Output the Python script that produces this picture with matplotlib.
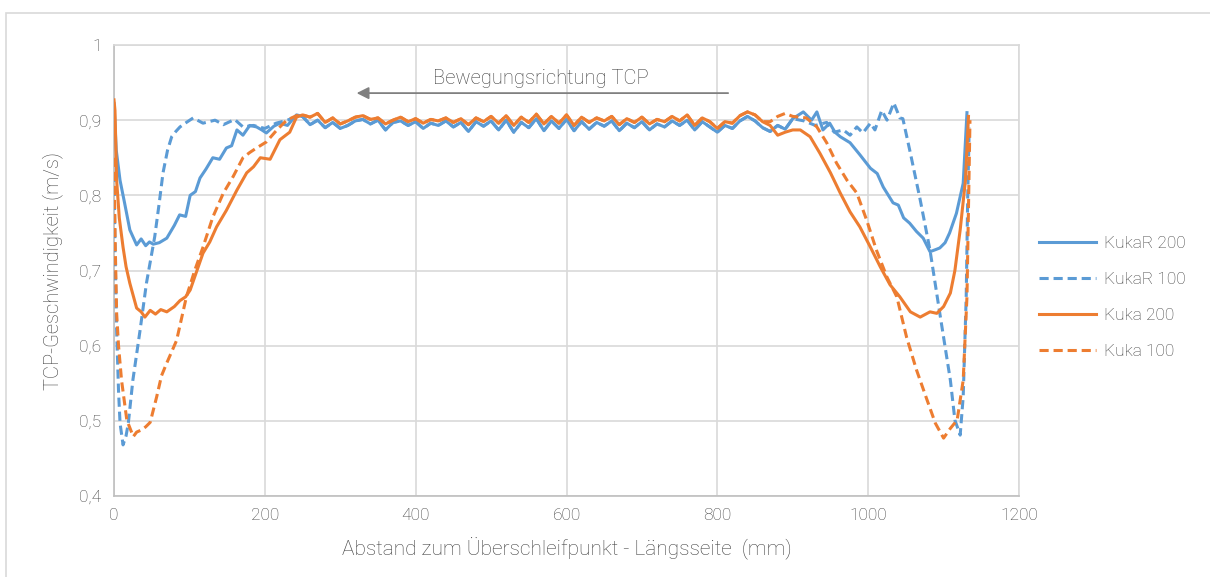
import numpy as np
import matplotlib.pyplot as plt
from matplotlib.patches import Rectangle

plt.rcParams['font.family'] = ['Roboto', 'DejaVu Sans']
plt.rcParams['font.weight'] = 'light'
plt.rcParams['axes.labelweight'] = 'light'

# plateau section (shared by the solid/dashed curves of one robot)
plat_x = [250, 260, 270, 280, 290, 300, 310, 320, 330, 340, 350, 360, 370, 380, 390,
          400, 410, 420, 430, 440, 450, 460, 470, 480, 490, 500, 510, 520, 530, 540,
          550, 560, 570, 580, 590, 600, 610, 620, 630, 640, 650, 660, 670, 680, 690,
          700, 710, 720, 730, 740, 750, 760, 770, 780, 790, 800, 810, 820, 830, 840,
          850, 860]
plat_kukar = [0.905, 0.894, 0.900, 0.890, 0.897, 0.889, 0.893, 0.899, 0.901, 0.895,
              0.900, 0.887, 0.897, 0.899, 0.893, 0.898, 0.889, 0.896, 0.893, 0.899,
              0.891, 0.897, 0.885, 0.898, 0.892, 0.899, 0.887, 0.900, 0.884, 0.897,
              0.890, 0.902, 0.886, 0.899, 0.889, 0.901, 0.886, 0.898, 0.888, 0.897,
              0.892, 0.899, 0.886, 0.896, 0.890, 0.898, 0.887, 0.895, 0.891, 0.899,
              0.893, 0.900, 0.887, 0.898, 0.891, 0.884, 0.893, 0.889, 0.899, 0.905,
              0.899, 0.890]
plat_kuka = [0.907, 0.904, 0.909, 0.897, 0.903, 0.895, 0.899, 0.904, 0.906, 0.901,
             0.903, 0.895, 0.900, 0.904, 0.898, 0.902, 0.896, 0.901, 0.899, 0.903,
             0.897, 0.902, 0.894, 0.903, 0.898, 0.905, 0.896, 0.906, 0.893, 0.904,
             0.897, 0.908, 0.895, 0.905, 0.896, 0.907, 0.893, 0.904, 0.897, 0.903,
             0.899, 0.905, 0.894, 0.902, 0.897, 0.904, 0.895, 0.901, 0.898, 0.905,
             0.899, 0.907, 0.893, 0.903, 0.898, 0.889, 0.898, 0.896, 0.906, 0.911,
             0.907, 0.898]

# KukaR 200
kr200_lx = [0, 3, 8, 14, 21, 30, 36, 42, 47, 52, 60, 70, 80, 87, 95, 101, 108, 114, 122,
            131, 140, 149, 156, 163, 171, 180, 189, 196, 202, 212, 220, 230, 242]
kr200_ly = [0.922, 0.86, 0.82, 0.79, 0.754, 0.734, 0.742, 0.733, 0.738, 0.735, 0.737,
            0.743, 0.760, 0.774, 0.772, 0.800, 0.805, 0.823, 0.835, 0.850, 0.848, 0.863,
            0.866, 0.887, 0.880, 0.893, 0.891, 0.887, 0.883, 0.892, 0.896, 0.893, 0.907]
kr200_rx = [870, 880, 890, 900, 914, 925, 932, 940, 949, 956, 963, 976, 989, 1003, 1012,
            1020, 1033, 1040, 1047, 1055, 1064, 1073, 1082, 1090, 1095, 1102, 1108, 1117,
            1126, 1131]
kr200_ry = [0.885, 0.893, 0.888, 0.902, 0.911, 0.900, 0.911, 0.887, 0.896, 0.884, 0.878,
            0.870, 0.854, 0.836, 0.829, 0.811, 0.790, 0.787, 0.770, 0.763, 0.752, 0.743,
            0.725, 0.728, 0.730, 0.737, 0.750, 0.776, 0.816, 0.910]

# KukaR 100
kr100_lx = [0, 1.5, 3.5, 6, 8, 12, 16, 19, 25, 34.5, 43, 54, 60, 65, 71, 76.5, 82, 87.5,
            96, 105, 118, 134, 145, 160, 171, 185, 200, 215, 230, 242]
kr100_ly = [0.83, 0.72, 0.62, 0.54, 0.497, 0.468, 0.480, 0.497, 0.554, 0.620, 0.683,
            0.745, 0.790, 0.830, 0.860, 0.878, 0.885, 0.891, 0.897, 0.903, 0.896, 0.900,
            0.894, 0.901, 0.891, 0.893, 0.889, 0.896, 0.900, 0.905]
kr100_rx = [870, 880, 890, 900, 915, 930, 945, 955, 967, 976, 985, 993, 1003, 1009, 1018,
            1025, 1034, 1042, 1046, 1056, 1069, 1082, 1095, 1109, 1115, 1122, 1126, 1130,
            1132, 1134]
kr100_ry = [0.885, 0.893, 0.888, 0.902, 0.899, 0.893, 0.897, 0.884, 0.887, 0.880, 0.891,
            0.883, 0.896, 0.887, 0.913, 0.900, 0.923, 0.903, 0.902, 0.856, 0.794, 0.727,
            0.643, 0.554, 0.501, 0.481, 0.532, 0.665, 0.798, 0.890]

# Kuka 200
k200_lx = [0, 1.3, 3.5, 7, 12, 16, 21, 30, 36, 41, 48, 55, 62, 70, 80, 87.5, 95, 101,
           110, 118, 127, 136, 149, 163, 176, 185, 194, 207, 220, 233, 242]
k200_ly = [0.927, 0.913, 0.82, 0.77, 0.731, 0.705, 0.683, 0.650, 0.645, 0.638, 0.647,
           0.642, 0.648, 0.645, 0.652, 0.660, 0.665, 0.674, 0.700, 0.723, 0.738, 0.758,
           0.780, 0.807, 0.830, 0.838, 0.850, 0.848, 0.874, 0.884, 0.904]
k200_rx = [870, 880, 890, 900, 910, 923, 936, 950, 963, 976, 989, 1003, 1016, 1029,
           1042, 1056, 1069, 1082, 1091, 1100, 1109, 1115, 1122, 1129, 1133]
k200_ry = [0.893, 0.880, 0.884, 0.887, 0.887, 0.878, 0.856, 0.830, 0.803, 0.778, 0.758,
           0.731, 0.705, 0.681, 0.665, 0.645, 0.638, 0.645, 0.643, 0.652, 0.670, 0.700,
           0.754, 0.820, 0.905]

# Kuka 100
k100_lx = [0, 1.5, 3.5, 6, 10, 17, 25.6, 30, 36.7, 42, 48, 56.6, 63, 70, 83, 96, 107, 118,
           131, 145, 158, 171, 180, 189, 202, 216, 229, 242]
k100_ly = [0.85, 0.74, 0.643, 0.60, 0.554, 0.501, 0.479, 0.485, 0.488, 0.492, 0.498,
           0.532, 0.560, 0.577, 0.607, 0.665, 0.700, 0.731, 0.771, 0.803, 0.825, 0.850,
           0.857, 0.863, 0.871, 0.887, 0.900, 0.906]
k100_rx = [870, 880, 890, 900, 918, 932, 945, 958, 972, 985, 998, 1011, 1025, 1038, 1051,
           1064, 1078, 1089, 1100, 1109, 1118, 1126, 1131, 1135]
k100_ry = [0.898, 0.905, 0.909, 0.905, 0.903, 0.891, 0.870, 0.843, 0.820, 0.803, 0.767,
           0.727, 0.691, 0.665, 0.611, 0.568, 0.528, 0.497, 0.477, 0.490, 0.501, 0.554,
           0.665, 0.900]

blue = '#5b9bd5'
orange = '#ed7d31'

fig = plt.figure(figsize=(12.1, 5.77), dpi=100)
ax = fig.add_axes([114 / 1210, 1 - 496 / 577, 905 / 1210, 451 / 577])

series = [
    ('KukaR 200', kr200_lx, kr200_ly, plat_kukar, kr200_rx, kr200_ry, blue, '-'),
    ('KukaR 100', kr100_lx, kr100_ly, plat_kukar, kr100_rx, kr100_ry, blue, '--'),
    ('Kuka 200', k200_lx, k200_ly, plat_kuka, k200_rx, k200_ry, orange, '-'),
    ('Kuka 100', k100_lx, k100_ly, plat_kuka, k100_rx, k100_ry, orange, '--'),
]
for name, lx, ly, py, rx, ry, col, ls in series:
    x = np.concatenate([lx, plat_x, rx])
    y = np.concatenate([ly, py, ry])
    ax.plot(x, y, color=col, ls=ls, lw=2.2, label=name,
            dashes=(3, 1.6) if ls == '--' else (None, None), zorder=3)

ax.set_xlim(0, 1200)
ax.set_ylim(0.4, 1.0)
ax.set_xticks(np.arange(0, 1201, 200))
ax.set_yticks(np.arange(0.4, 1.001, 0.1))
ax.set_yticklabels([f'{v:.1f}'.replace('.', ',') if v < 0.95 else '1'
                    for v in np.arange(0.4, 1.001, 0.1)])
ax.grid(True, color='#d9d9d9', lw=1.2)
ax.set_axisbelow(True)
for s in ax.spines.values():
    s.set_color('#d9d9d9')
    s.set_linewidth(1.2)
ax.spines['left'].set_color('#bfbfbf')
ax.spines['bottom'].set_color('#bfbfbf')
ax.tick_params(length=0, labelsize=12.5, labelcolor='#404040', pad=9)

ax.set_xlabel('Abstand zum Überschleifpunkt - Längsseite  (mm)', fontsize=15,
              color='#404040', labelpad=10)
ax.set_ylabel('TCP-Geschwindigkeit (m/s)', fontsize=14.5, color='#404040', labelpad=12)

ax.annotate('', xy=(318, 0.936), xytext=(818, 0.936),
            arrowprops=dict(arrowstyle='-|>', color='#808080', lw=1.3,
                            mutation_scale=18))
ax.text(566, 0.956, 'Bewegungsrichtung TCP', ha='center', va='center',
        fontsize=14.5, color='#404040')

leg = ax.legend(loc='center left', bbox_to_anchor=(1.005, 0.441), frameon=False,
                fontsize=12.5, handlelength=3.3, labelspacing=1.2, handletextpad=0.45)
for t in leg.get_texts():
    t.set_color('#404040')

fig.patches.append(Rectangle((6 / 1210, -0.05), 1.1, 1 - 13 / 577 + 0.05,
                             transform=fig.transFigure, fill=False,
                             edgecolor='#d9d9d9', lw=1.2))

fig.savefig('out.png', dpi=100)
